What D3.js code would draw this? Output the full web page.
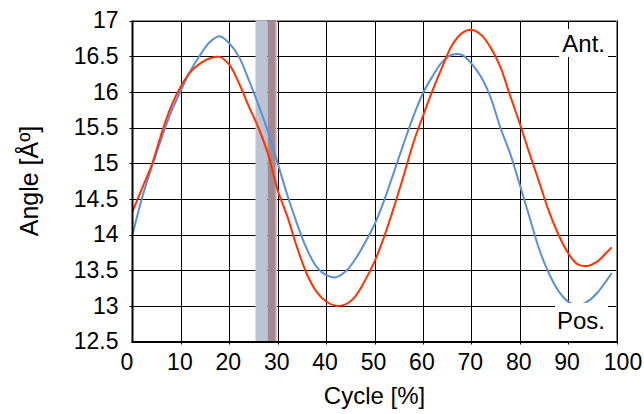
<!DOCTYPE html>
<html>
<head>
<meta charset="utf-8">
<script src="https://cdn.jsdelivr.net/npm/d3@7/dist/d3.min.js"></script>
<style>
  html, body { margin: 0; padding: 0; background: #fff; }
  svg { display: block; font-family: "Liberation Sans", Arial, sans-serif; }
</style>
</head>
<body>
<svg id="chart" width="644" height="414"></svg>
<script>
// Cycle positions (% of gait cycle)
const cycle = [0, 2, 4, 6, 8, 10, 12, 14, 16, 18, 20, 22, 24, 26, 28, 30, 32, 34, 36, 38,
  40, 42, 44, 46, 48, 50, 52, 54, 56, 58, 60, 62, 64, 66, 68, 70, 72, 74, 76, 78,
  80, 82, 84, 86, 88, 90, 92, 94, 96, 98, 99];

// Posterior angle (blue)
const posAngle = [14.00, 14.52, 14.95, 15.35, 15.72, 16.02, 16.30, 16.52, 16.70, 16.78,
  16.68, 16.49, 16.17, 15.82, 15.44, 15.00, 14.55, 14.15, 13.80, 13.55,
  13.43, 13.40, 13.48, 13.65, 13.88, 14.14, 14.48, 14.87, 15.27, 15.65,
  15.98, 16.22, 16.42, 16.52, 16.52, 16.40, 16.21, 15.92, 15.50, 15.14,
  14.70, 14.25, 13.80, 13.46, 13.21, 13.06, 13.01, 13.06, 13.18, 13.36, 13.46];

// Anterior angle (red)
const antAngle = [14.32, 14.65, 14.98, 15.42, 15.80, 16.08, 16.28, 16.40, 16.47, 16.49,
  16.38, 16.12, 15.80, 15.50, 15.13, 14.62, 14.25, 13.82, 13.45, 13.20,
  13.06, 13.00, 13.02, 13.13, 13.35, 13.62, 13.97, 14.38, 14.82, 15.28,
  15.66, 16.02, 16.35, 16.65, 16.82, 16.87, 16.80, 16.62, 16.35, 15.95,
  15.56, 15.14, 14.74, 14.33, 14.00, 13.74, 13.58, 13.56, 13.62, 13.75, 13.82];

// Highlighted phases of the cycle [start, end]
const bandGray = [25.4, 27.9];
const bandBrown = [27.9, 29.6];
const bandEdge = [29.6, 29.9];

// Tick values
const xTicks = [0, 10, 20, 30, 40, 50, 60, 70, 80, 90, 100];
const yTicks = [12.5, 13, 13.5, 14, 14.5, 15, 15.5, 16, 16.5, 17];

const svg = d3.select("#chart");
const plotL = 132.5, plotR = 616.5, plotT = 20.5, plotB = 341.5;

const x = d3.scaleLinear().domain([0, 100]).range([plotL, plotR]);
const y = d3.scaleLinear().domain([12.5, 17]).range([plotB, plotT]);

// Grid
const grid = svg.append("g");
grid.selectAll("line.gy").data(yTicks.slice(1)).join("line")
  .attr("x1", plotL - 3).attr("x2", plotR)
  .attr("y1", d => Math.round(y(d)) + 0.5).attr("y2", d => Math.round(y(d)) + 0.5)
  .attr("stroke", "#000").attr("stroke-width", 1);
grid.selectAll("line.gx").data(xTicks.slice(1)).join("line")
  .attr("x1", d => Math.round(x(d)) + 0.5).attr("x2", d => Math.round(x(d)) + 0.5)
  .attr("y1", plotT).attr("y2", plotB + 3)
  .attr("stroke", "#000").attr("stroke-width", 1);

// Top and right frame
svg.append("path")
  .attr("d", `M${plotL},${plotT}H${plotR}V${plotB}`)
  .attr("fill", "none").attr("stroke", "#8c8c8c").attr("stroke-width", 1);

// Phase bands
function band(r, color) {
  svg.append("rect")
    .attr("x", x(r[0])).attr("width", x(r[1]) - x(r[0]))
    .attr("y", plotT).attr("height", plotB - plotT)
    .attr("fill", color);
}
band(bandGray, "#bcc4d4");
band(bandBrown, "#a28a92");
band(bandEdge, "#dcc6ca");

// Series
const line = d3.line().x((d, i) => x(cycle[i])).y(d => y(d)).curve(d3.curveCatmullRom.alpha(0.5));
svg.append("path").datum(posAngle).attr("d", line)
  .attr("fill", "none").attr("stroke", "#5b8fd8").attr("stroke-width", 2);
svg.append("path").datum(antAngle).attr("d", line)
  .attr("fill", "none").attr("stroke", "#ff3300").attr("stroke-width", 2);

// Axes
const xAxis = d3.axisBottom(x).tickValues(xTicks).tickSize(0).tickPadding(12).tickFormat(d3.format("d"));
const gx = svg.append("g").attr("transform", `translate(0,${plotB})`).call(xAxis);
gx.select(".domain").remove();
gx.selectAll("text").attr("font-size", 23).attr("fill", "#000")
  .attr("dx", d => d === 0 ? -6 : d === 100 ? 6 : -1.5);

const yAxis = d3.axisLeft(y).tickValues(yTicks).tickSize(0).tickPadding(14).tickFormat(d3.format("~g"));
const gy = svg.append("g").attr("transform", `translate(${plotL},0)`).call(yAxis);
gy.select(".domain").remove();
gy.selectAll("text").attr("font-size", 23).attr("fill", "#000");

svg.append("line").attr("x1", plotL).attr("x2", plotL).attr("y1", plotT).attr("y2", plotB + 1)
  .attr("stroke", "#000").attr("stroke-width", 2);
svg.append("line").attr("x1", plotL - 1).attr("x2", plotR + 0.5).attr("y1", plotB + 0.5).attr("y2", plotB + 0.5)
  .attr("stroke", "#000").attr("stroke-width", 2);

// Series labels
function tag(text, x0, y0, w, h, baseline) {
  svg.append("rect").attr("x", x0).attr("y", y0).attr("width", w).attr("height", h).attr("fill", "#fff");
  svg.append("text").attr("x", 605).attr("y", baseline).attr("text-anchor", "end")
    .attr("font-size", 24).attr("fill", "#000").text(text);
}
tag("Ant.", 559, 29, 49, 28, 52);
tag("Pos.", 555, 303, 53, 38, 329);

// Axis titles
svg.append("text").attr("x", (plotL + plotR) / 2).attr("y", 404).attr("text-anchor", "middle")
  .attr("font-size", 24).attr("fill", "#000").text("Cycle [%]");
svg.append("text").attr("transform", `translate(38,${(plotT + plotB) / 2}) rotate(-90)`)
  .attr("text-anchor", "middle").attr("font-size", 25).attr("fill", "#000").text("Angle [Åº]");
</script>
</body>
</html>
